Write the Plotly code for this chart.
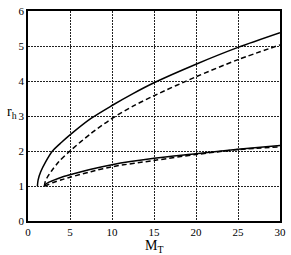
import plotly.graph_objects as go

# Upper pair
up_solid_x = [1.12, 1.2, 1.5, 2.1, 2.92, 4, 5, 7.5, 10, 12.5, 15, 20, 25, 30]
up_solid_y = [1.0, 1.17, 1.4, 1.69, 2.0, 2.25, 2.46, 2.93, 3.3, 3.64, 3.95, 4.48, 4.96, 5.38]
up_dash_x = [1.95, 2.05, 2.3, 2.8, 3.66, 5, 7.5, 10, 12.5, 15, 20, 25, 30]
up_dash_y = [1.0, 1.12, 1.25, 1.43, 1.69, 2.0, 2.5, 2.93, 3.28, 3.58, 4.12, 4.61, 5.03]
# Lower pair
lo_solid_x = [1.95, 2.05, 2.5, 3, 4, 5, 7.5, 10, 15, 20, 25, 30]
lo_solid_y = [1.0, 1.04, 1.11, 1.16, 1.25, 1.32, 1.48, 1.61, 1.79, 1.92, 2.05, 2.16]
lo_dash_x = [2.0, 2.3, 3, 4, 5, 7.5, 10, 15, 20, 25, 30]
lo_dash_y = [1.0, 1.03, 1.1, 1.18, 1.25, 1.41, 1.55, 1.73, 1.9, 2.04, 2.12]

x_ticks = [0, 5, 10, 15, 20, 25, 30]
y_ticks = [0, 1, 2, 3, 4, 5, 6]

fig = go.Figure()
for xs, ys, dash in [(up_solid_x, up_solid_y, "solid"), (up_dash_x, up_dash_y, "5px,3px"),
                     (lo_solid_x, lo_solid_y, "solid"), (lo_dash_x, lo_dash_y, "5px,3px")]:
    fig.add_trace(go.Scatter(x=xs, y=ys, mode="lines",
                             line=dict(color="black", width=1.5, dash=dash, shape="spline", smoothing=0.8),
                             showlegend=False, hoverinfo="skip"))

font = "Liberation Serif, DejaVu Serif, serif"
axis_common = dict(showgrid=True, gridcolor="#222", griddash="2px,1px", gridwidth=1.3,
                   showline=True, linecolor="black", linewidth=1.6, mirror=True,
                   zeroline=False, ticks="", tickfont=dict(family=font, size=11, color="black"))
fig.update_xaxes(range=[0, 30], tickvals=x_ticks, **axis_common)
fig.update_yaxes(range=[0, 6], tickvals=y_ticks, **axis_common)

fig.add_annotation(text="M<sub>T</sub>", xref="paper", yref="paper", x=0.5, y=-0.07,
                   xanchor="center", yanchor="top", showarrow=False,
                   font=dict(family=font, size=14, color="black"))
fig.add_annotation(text="r<sub>h</sub>", xref="paper", x=-0.065, yref="y", y=3.1,
                   xanchor="center", yanchor="middle", showarrow=False,
                   font=dict(family=font, size=14, color="black"))

fig.update_layout(width=291, height=255, margin=dict(l=28, r=6, t=5, b=34),
                  plot_bgcolor="white", paper_bgcolor="white")
fig.write_html("out.html", config={"displayModeBar": False},
               post_script="document.body.style.margin='0';document.body.style.padding='0';")
